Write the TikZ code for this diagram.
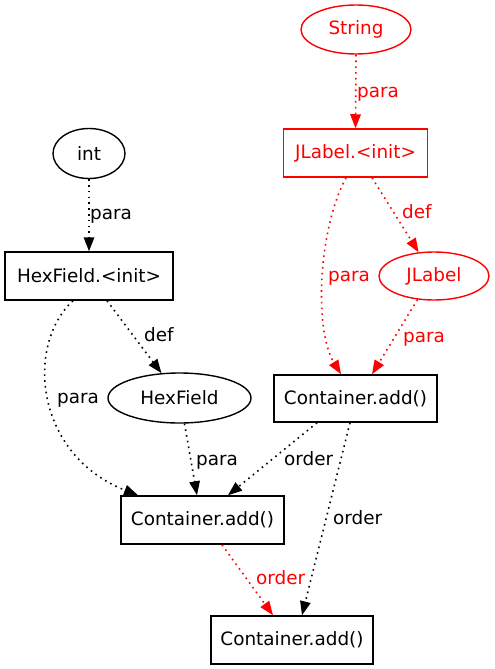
\documentclass[tikz,border=0pt]{standalone}
\usepackage{fontspec}
\setmainfont{DejaVu Sans}
\usetikzlibrary{arrows.meta,shapes.geometric}
\begin{document}
\begin{tikzpicture}[x=1pt,y=-1pt,
  every node/.style={font=\fontsize{18.4}{21}\selectfont},
  box/.style={draw,rectangle,inner sep=0pt,line width=1.5pt},
  ell/.style={draw,ellipse,inner sep=0pt,line width=1.4pt},
  edge/.style={line width=1.6pt,dash pattern=on 1.6pt off 4.2pt,
    -{Triangle[length=14pt,width=10.5pt]}},
  lbl/.style={anchor=base west,inner sep=0pt}
]
\useasboundingbox (0,0) rectangle (495,669);
% nodes
\node[ell,red,minimum width=110pt,minimum height=49pt] (str) at (356,29.5) {String};
\node[box,red,minimum width=144pt,minimum height=48pt] (jinit) at (355.5,153) {JLabel.<init>};
\node[ell,minimum width=72pt,minimum height=50pt] (int) at (89,153.5) {int};
\node[box,minimum width=168pt,minimum height=48pt] (hinit) at (89,276) {HexField.<init>};
\node[ell,red,minimum width=110pt,minimum height=48pt] (jlab) at (434,276) {JLabel};
\node[ell,minimum width=143pt,minimum height=50pt] (hex) at (179.5,398) {HexField};
\node[box,minimum width=163pt,minimum height=47pt] (ctop) at (355.5,398.5) {Container.add()};
\node[box,minimum width=163pt,minimum height=48pt] (cmid) at (202.5,520) {Container.add()};
\node[box,minimum width=162pt,minimum height=48pt] (cbot) at (292,640) {Container.add()};
% edges
\draw[edge,red] (str.south) -- (jinit.north);
\node[lbl,red] at (357,97) {para};
\draw[edge] (int.south) -- (hinit.north);
\node[lbl] at (90,219) {para};
\draw[edge,red] ([xshift=-9.5pt]jinit.south) .. controls (318,230) and (314,330) .. ([xshift=-14.5pt]ctop.north);
\node[lbl,red] at (328,281) {para};
\draw[edge,red] ([xshift=16.5pt]jinit.south) -- (jlab.123);
\node[lbl,red] at (402,218) {def};
\draw[edge,red] (jlab.235) -- ([xshift=16.5pt]ctop.north);
\node[lbl,red] at (403,342) {para};
\draw[edge] ([xshift=-16pt]hinit.south) .. controls (25,345) and (35,455) .. ([xshift=-64.5pt]cmid.north);
\node[lbl] at (57,403) {para};
\draw[edge] ([xshift=18pt]hinit.south) -- (hex.126.6);
\node[lbl] at (144,341) {def};
\draw[edge] (hex.281) -- ([xshift=-5.5pt]cmid.north);
\node[lbl] at (196,465) {para};
\draw[edge] ([xshift=-38.5pt]ctop.south) -- ([xshift=25.5pt]cmid.north);
\node[lbl] at (284,465) {order};
\draw[edge] ([xshift=-5.5pt]ctop.south) -- ([xshift=10pt]cbot.north);
\node[lbl] at (333,524) {order};
\draw[edge,red] ([xshift=19.5pt]cmid.south) -- ([xshift=-19pt]cbot.north);
\node[lbl,red] at (256,584) {order};
\end{tikzpicture}
\end{document}
